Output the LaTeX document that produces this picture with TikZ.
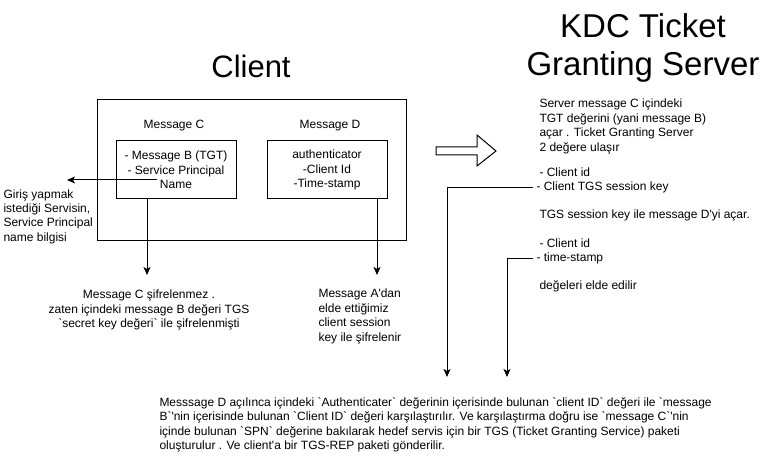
\documentclass[tikz,border=0pt]{standalone}
\usepackage{fontspec}
\setmainfont{Liberation Sans}[Ligatures=TeXOff]
\usetikzlibrary{arrows.meta, positioning}

\begin{document}
\begin{tikzpicture}[
    x=1pt, y=-1pt,
    line width=1pt,
    msgbox/.style={rectangle, draw, minimum width=120pt, minimum height=58pt, align=center, inner sep=0pt, font=\fontsize{12}{14.4}\selectfont},
    txt/.style={inner sep=0pt, font=\fontsize{12}{14.4}\selectfont},
    title/.style={inner sep=0pt, align=center},
    >={Stealth[length=8pt, width=7pt, inset=2pt]}
]
\useasboundingbox (0,0) rectangle (776,470);

% client side
\node[title, font=\fontsize{31}{37}\selectfont, anchor=base] (client) at (251,78) {Client};
\node[draw, minimum width=309pt, minimum height=141pt] (frame) at (251.5,170.5) {};
\node[txt] (lblC) at (174,126) {Message C};
\node[txt] (lblD) at (330,126) {Message D};
\node[msgbox] (msgC) at (176,170) {- Message B (TGT)\\- Service Principal\\Name};
\node[msgbox] (msgD) at (327,170) {authenticator\\-Client Id\\-Time-stamp};

\node[txt, align=left, anchor=west] (spn) at (3,216.5) {Giriş yapmak\\istediği Servisin,\\Service Principal\\name bilgisi};
\node[txt, align=center] (encC) at (149,310) {Message C şifrelenmez .\\zaten içindeki message B değeri TGS\\`secret key değeri` ile şifrelenmişti};
\node[txt, align=left, anchor=west] (encD) at (318,316.5) {Message A'dan\\elde ettiğimiz\\client session\\key ile şifrelenir};

\coordinate (spnSrc) at (157,180);
\coordinate (spnTip) at (67,180);
\coordinate (encCTip) at (147,275);
\coordinate (encDTip) at (377,275);

\draw[->] (spnSrc) -- (spnTip);
\draw[->] (encCTip |- msgC.south) -- (encCTip);
\draw[->] (encDTip |- msgD.south) -- (encDTip);

% block arrow
\draw[fill=white] (436,147) -- (477,147) -- (477,135) -- (496,151) -- (477,166) -- (477,155) -- (436,155) -- cycle;

% server side
\node[title, font=\fontsize{33}{37.5}\selectfont] (kdc) at (643,48) {KDC Ticket\\Granting Server};
\node[txt, align=left, anchor=west] (srv) at (539,126.5) {Server message C içindeki\\TGT değerini (yani message B)\\açar . Ticket Granting Server\\2 değere ulaşır};
\node[txt, anchor=base west] (cid1) at (539,176.3) {- Client id};
\node[txt, anchor=base west] (tgskey) at (536,190.3) {- Client TGS session key};
\node[txt, anchor=base west] (tgsopen) at (539,218.3) {TGS session key ile message D'yi açar.};
\node[txt, anchor=base west] (cid2) at (539,247.3) {- Client id};
\node[txt, anchor=base west] (tstamp) at (536,261.3) {- time-stamp};
\node[txt, anchor=base west] (values) at (539,289.3) {değeleri elde edilir};

\node[txt, align=left, anchor=west] (result) at (159,425) {Messsage D açılınca içindeki `Authenticater` değerinin içerisinde bulunan `client ID` değeri ile `message\\B`'nin içerisinde bulunan `Client ID` değeri karşılaştırılır. Ve karşılaştırma doğru ise `message C`'nin\\içinde bulunan `SPN` değerine bakılarak hedef servis için bir TGS (Ticket Granting Service) paketi\\oluşturulur . Ve client'a bir TGS-REP paketi gönderilir.};

\coordinate (keyTip) at (447,377);
\coordinate (stampTip) at (507,377);

\draw[->, shorten <=3pt] (tgskey.west) -| (keyTip);
\draw[->, shorten <=3pt] (tstamp.west) -| (stampTip);
\end{tikzpicture}
\end{document}
